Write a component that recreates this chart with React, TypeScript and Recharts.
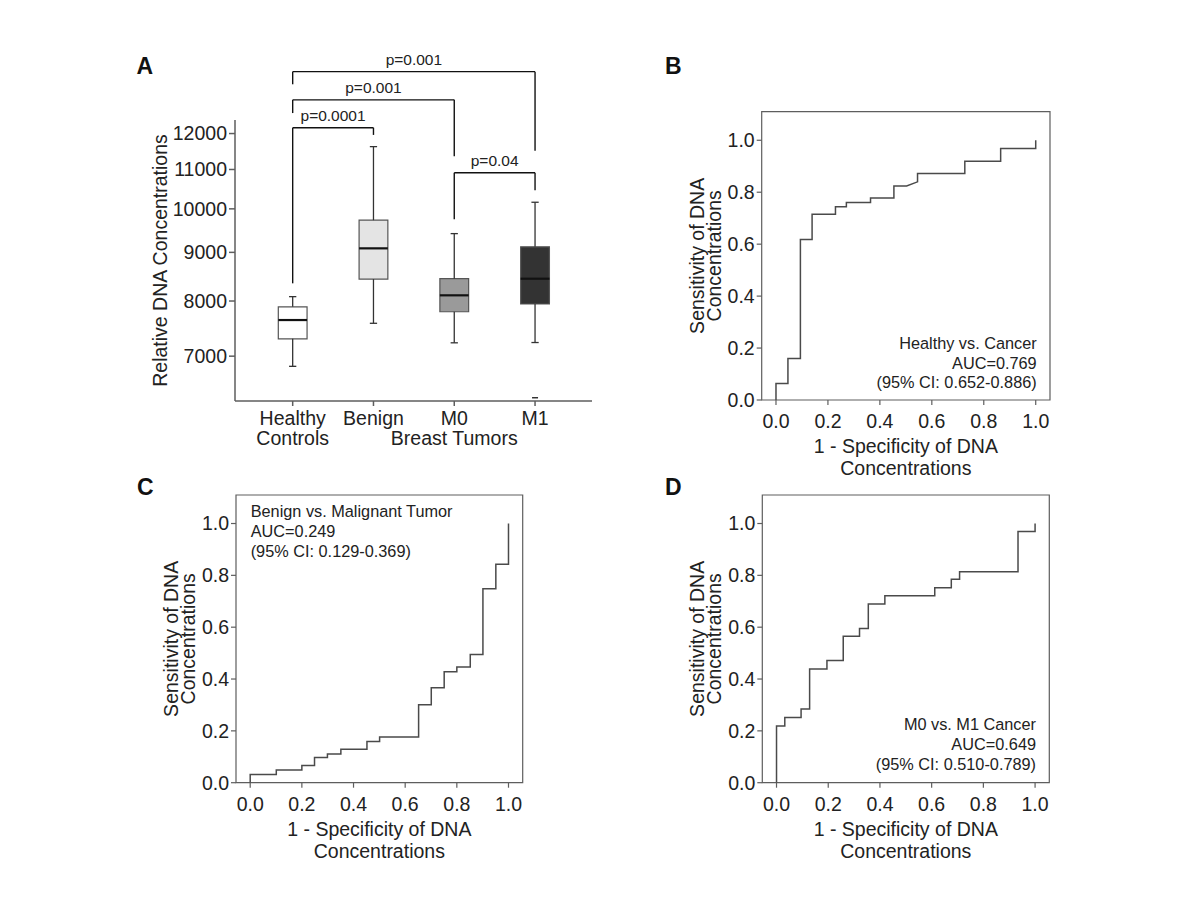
import React from "react";
import {
  ComposedChart, LineChart, Line, Scatter, XAxis, YAxis,
  ReferenceArea, ReferenceLine,
} from "recharts";

const FONT = '"Liberation Sans", Arial, Helvetica, sans-serif';
const INK = "#222222";
const AXIS_GRAY = "#5e5e5e";
const CURVE_GRAY = "#4a4a4a";
const TICK_FONT = 19.5;
const NOTE_FONT = 16.3;

// ---------------------------------------------------------------------------
// Panel A – box plot data
// ---------------------------------------------------------------------------
const groupIds = [1, 2, 3, 4];
const groupLabels = [["Healthy", "Controls"], ["Benign"], ["M0"], ["M1"]];
const tumorGroupIds = [2, 3, 4];
const tumorLabel = "Breast Tumors";
const whiskerLow = [6830, 7580, 7230, 7235];
const quartile1 = [7300, 8436, 7795, 7942];
const medians = [7640, 9088, 8111, 8444];
const quartile3 = [7889, 9730, 8444, 9122];
const whiskerHigh = [8085, 11626, 9418, 10161];
const outlierGroup = [4];
const outlierValue = [6330];
const concentrationTicks = [7000, 8000, 9000, 10000, 11000, 12000];

// significance brackets (group ids, label, bracket level + leg ends in DNA units)
const bracketFrom = [1, 1, 1, 3];
const bracketTo = [4, 3, 2, 4];
const bracketP = ["p=0.001", "p=0.001", "p=0.0001", "p=0.04"];
const bracketLevel = [13940, 13020, 12170, 10915];
const bracketFromEnd = [13520, 12610, 8350, 9750];
const bracketToEnd = [11510, 11360, 11960, 10460];

const boxFills = ["#ffffff", "#e4e4e4", "#9a9a9a", "#333333"];
const BOX_HALF = 0.178;
const CAP_HALF = 0.045;

// ---------------------------------------------------------------------------
// ROC curves (corner points of the step curves)
// ---------------------------------------------------------------------------
const rocTicks = [0, 0.2, 0.4, 0.6, 0.8, 1.0];

const healthyFpr = [0, 0, 0.046, 0.046, 0.094, 0.094, 0.139, 0.139, 0.229, 0.229, 0.271, 0.271,
  0.364, 0.364, 0.454, 0.454, 0.503, 0.545, 0.545, 0.727, 0.727, 0.865, 0.865, 1, 1];
const healthyTpr = [0, 0.064, 0.064, 0.160, 0.160, 0.618, 0.618, 0.715, 0.715, 0.744, 0.744, 0.760,
  0.760, 0.778, 0.778, 0.824, 0.824, 0.840, 0.872, 0.872, 0.919, 0.919, 0.968, 0.968, 1];

const benignFpr = [0, 0, 0.101, 0.101, 0.2, 0.2, 0.249, 0.249, 0.299, 0.299, 0.351, 0.351, 0.452,
  0.452, 0.501, 0.501, 0.652, 0.652, 0.701, 0.701, 0.751, 0.751, 0.8, 0.8, 0.852, 0.852, 0.901,
  0.901, 0.951, 0.951, 1, 1];
const benignTpr = [0, 0.032, 0.032, 0.049, 0.049, 0.066, 0.066, 0.097, 0.097, 0.111, 0.111, 0.129,
  0.129, 0.159, 0.159, 0.176, 0.176, 0.301, 0.301, 0.366, 0.366, 0.428, 0.428, 0.446, 0.446,
  0.495, 0.495, 0.748, 0.748, 0.843, 0.843, 1];

const metFpr = [0, 0, 0.032, 0.032, 0.095, 0.095, 0.128, 0.128, 0.195, 0.195, 0.258, 0.258, 0.321,
  0.321, 0.355, 0.355, 0.419, 0.419, 0.612, 0.612, 0.676, 0.676, 0.708, 0.708, 0.934, 0.934, 1, 1];
const metTpr = [0, 0.219, 0.219, 0.252, 0.252, 0.284, 0.284, 0.439, 0.439, 0.471, 0.471, 0.565,
  0.565, 0.595, 0.595, 0.689, 0.689, 0.721, 0.721, 0.752, 0.752, 0.785, 0.785, 0.814, 0.814,
  0.969, 0.969, 1];

const ROC_X: [number, number] = [-0.055, 1.055];
const ROC_Y: [number, number] = [0, 1.11];

// ---------------------------------------------------------------------------
// Shared label helpers (multi-line titles are one <text> with tspans)
// ---------------------------------------------------------------------------
function VerticalTitle({ viewBox, lines, dists }: any) {
  if (!viewBox) return null;
  const plotLeft = viewBox.x + viewBox.width;
  const cy = viewBox.y + viewBox.height / 2;
  return (
    <text
      transform={`translate(${plotLeft},${cy}) rotate(-90)`}
      textAnchor="middle"
      dominantBaseline="central"
      fontSize={TICK_FONT}
      fontFamily={FONT}
      fill={INK}
    >
      {lines.map((t: string, k: number) => (
        <tspan key={k} x={0} y={-dists[k]}>{t}</tspan>
      ))}
    </text>
  );
}

function BottomTitle({ viewBox, lines, baselines }: any) {
  if (!viewBox) return null;
  const cx = viewBox.x + viewBox.width / 2;
  return (
    <text textAnchor="middle" fontSize={TICK_FONT} fontFamily={FONT} fill={INK}>
      {lines.map((t: string, k: number) => (
        <tspan key={k} x={cx} y={viewBox.y + baselines[k]}>{t}</tspan>
      ))}
    </text>
  );
}

function GroupTick({ x, y, payload }: any) {
  const i = groupIds.indexOf(payload.value);
  const lines = groupLabels[i] ?? [];
  const mid = tumorGroupIds[Math.floor(tumorGroupIds.length / 2)];
  return (
    <g>
      <text textAnchor="middle" fontSize={TICK_FONT} fontFamily={FONT} fill={INK}>
        {lines.map((t, k) => (
          <tspan key={k} x={x} y={y + 17.3 + k * 20}>{t}</tspan>
        ))}
      </text>
      {payload.value === mid && (
        <text x={x} y={y + 37.3} textAnchor="middle"
          fontSize={TICK_FONT} fontFamily={FONT} fill={INK}>
          {tumorLabel}
        </text>
      )}
    </g>
  );
}

// ---------------------------------------------------------------------------
// Panel A
// ---------------------------------------------------------------------------
function BoxPlotPanel() {
  const outlierData = outlierGroup.map((g, i) => ({ group: g, value: outlierValue[i] }));
  const tickStyle = { fontSize: TICK_FONT, fill: INK, fontFamily: FONT };

  return (
    <div style={{ position: "absolute", left: 130, top: 40 }}>
      <ComposedChart
        width={480}
        height={420}
        data={outlierData}
        margin={{ top: 80, right: 18, bottom: 19, left: 45 }}
      >
        <XAxis
          type="number"
          dataKey="group"
          domain={[0.286, 4.705]}
          allowDataOverflow
          ticks={groupIds}
          interval={0}
          height={40}
          tickSize={5}
          tickMargin={2}
          axisLine={{ stroke: AXIS_GRAY, strokeWidth: 1.5 }}
          tickLine={{ stroke: AXIS_GRAY, strokeWidth: 1.5 }}
          tick={GroupTick}
        />
        <YAxis
          type="number"
          dataKey="value"
          scale="log"
          domain={[6280, 12400]}
          allowDataOverflow
          ticks={concentrationTicks}
          interval={0}
          width={60}
          tickSize={6}
          tickMargin={2}
          axisLine={{ stroke: AXIS_GRAY, strokeWidth: 1.5 }}
          tickLine={{ stroke: AXIS_GRAY, strokeWidth: 1.5 }}
          tick={tickStyle}
          label={(p: any) => (
            <VerticalTitle {...p} lines={["Relative DNA Concentrations"]} dists={[75]} />
          )}
        />

        {/* whiskers + caps */}
        {groupIds.map((g, i) => (
          <React.Fragment key={`w${g}`}>
            <ReferenceLine segment={[{ x: g, y: quartile3[i] }, { x: g, y: whiskerHigh[i] }]}
              stroke="#333" strokeWidth={1.3} />
            <ReferenceLine segment={[{ x: g, y: whiskerLow[i] }, { x: g, y: quartile1[i] }]}
              stroke="#333" strokeWidth={1.3} />
            <ReferenceLine segment={[{ x: g - CAP_HALF, y: whiskerHigh[i] }, { x: g + CAP_HALF, y: whiskerHigh[i] }]}
              stroke="#333" strokeWidth={1.3} />
            <ReferenceLine segment={[{ x: g - CAP_HALF, y: whiskerLow[i] }, { x: g + CAP_HALF, y: whiskerLow[i] }]}
              stroke="#333" strokeWidth={1.3} />
          </React.Fragment>
        ))}

        {/* boxes */}
        {groupIds.map((g, i) => (
          <ReferenceArea
            key={`b${g}`}
            x1={g - BOX_HALF}
            x2={g + BOX_HALF}
            y1={quartile1[i]}
            y2={quartile3[i]}
            fill={boxFills[i]}
            fillOpacity={1}
            stroke="#555"
            strokeWidth={1.2}
          />
        ))}

        {/* medians */}
        {groupIds.map((g, i) => (
          <ReferenceLine key={`m${g}`}
            segment={[{ x: g - BOX_HALF, y: medians[i] }, { x: g + BOX_HALF, y: medians[i] }]}
            stroke="#111" strokeWidth={2.2} />
        ))}

        {/* significance brackets */}
        {bracketP.map((p, i) => (
          <React.Fragment key={`s${i}`}>
            <ReferenceLine
              ifOverflow="visible"
              segment={[{ x: bracketFrom[i], y: bracketLevel[i] }, { x: bracketTo[i], y: bracketLevel[i] }]}
              stroke="#111"
              strokeWidth={1.4}
              label={{ value: p, position: "top", offset: 7, fill: INK, fontSize: 15.5, fontFamily: FONT }}
            />
            <ReferenceLine
              ifOverflow="visible"
              segment={[{ x: bracketFrom[i], y: bracketLevel[i] }, { x: bracketFrom[i], y: bracketFromEnd[i] }]}
              stroke="#111"
              strokeWidth={1.4}
            />
            <ReferenceLine
              ifOverflow="visible"
              segment={[{ x: bracketTo[i], y: bracketLevel[i] }, { x: bracketTo[i], y: bracketToEnd[i] }]}
              stroke="#111"
              strokeWidth={1.4}
            />
          </React.Fragment>
        ))}

        {/* outliers */}
        <Scatter
          dataKey="value"
          isAnimationActive={false}
          shape={(s: any) => (
            <line x1={s.cx - 3} x2={s.cx + 3} y1={s.cy} y2={s.cy} stroke="#333" strokeWidth={1.5} />
          )}
        />
      </ComposedChart>
    </div>
  );
}

// ---------------------------------------------------------------------------
// ROC panels
// ---------------------------------------------------------------------------
function RocNote({ viewBox, note }: any) {
  if (!viewBox) return null;
  const x = note.align === "end"
    ? viewBox.x + viewBox.width - note.inset
    : viewBox.x + note.inset;
  const base = note.fromTop ? viewBox.y : viewBox.y + viewBox.height;
  return (
    <g>
      {note.lines.map((t: string, k: number) => (
        <text key={k} x={x} y={base + note.baselines[k]} textAnchor={note.align}
          fontSize={NOTE_FONT} fontFamily={FONT} fill={INK}>
          {t}
        </text>
      ))}
    </g>
  );
}

function RocPanel({ box, margin, fpr, tpr, note }: any) {
  const data = fpr.map((x: number, i: number) => ({ fpr: x, tpr: tpr[i] }));
  const tickStyle = { fontSize: TICK_FONT, fill: INK, fontFamily: FONT };
  return (
    <div style={{ position: "absolute", left: box.left, top: box.top }}>
      <LineChart width={box.width} height={box.height} data={data} margin={margin}>
        <XAxis
          type="number"
          dataKey="fpr"
          domain={ROC_X}
          allowDataOverflow
          ticks={rocTicks}
          interval={0}
          tickFormatter={(v: number) => v.toFixed(1)}
          height={30}
          tickSize={5}
          tickMargin={9}
          axisLine={false}
          tickLine={{ stroke: AXIS_GRAY, strokeWidth: 1.2 }}
          tick={tickStyle}
          label={(p: any) => (
            <BottomTitle {...p} lines={["1 - Specificity of DNA", "Concentrations"]} baselines={[53, 75]} />
          )}
        />
        <YAxis
          type="number"
          domain={ROC_Y}
          allowDataOverflow
          ticks={rocTicks}
          interval={0}
          tickFormatter={(v: number) => v.toFixed(1)}
          width={50}
          tickSize={5}
          tickMargin={2}
          axisLine={false}
          tickLine={{ stroke: AXIS_GRAY, strokeWidth: 1.2 }}
          tick={tickStyle}
          label={(p: any) => (
            <VerticalTitle {...p} lines={["Sensitivity of DNA", "Concentrations"]} dists={[65, 48]} />
          )}
        />
        <ReferenceArea
          x1={ROC_X[0]}
          x2={ROC_X[1]}
          y1={ROC_Y[0]}
          y2={ROC_Y[1]}
          fill="none"
          stroke={AXIS_GRAY}
          strokeWidth={1.2}
          label={(p: any) => <RocNote {...p} note={note} />}
        />
        <Line
          type="linear"
          dataKey="tpr"
          stroke={CURVE_GRAY}
          strokeWidth={1.5}
          dot={false}
          activeDot={false}
          isAnimationActive={false}
        />
      </LineChart>
    </div>
  );
}

const panelLetters = [
  { t: "A", x: 136.5, y: 73.5 },
  { t: "B", x: 665, y: 74 },
  { t: "C", x: 137, y: 495 },
  { t: "D", x: 665, y: 495 },
];

export default function App() {
  return (
    <div style={{ position: "absolute", left: 0, top: 0, width: 1200, height: 900, background: "#fff", fontFamily: FONT }}>
      <svg width={1200} height={900} style={{ position: "absolute", left: 0, top: 0 }}>
        {panelLetters.map((l) => (
          <text key={l.t} x={l.x} y={l.y} fontSize={23} fontWeight="bold" fontFamily={FONT} fill="#111">
            {l.t}
          </text>
        ))}
      </svg>

      <BoxPlotPanel />

      <RocPanel
        box={{ left: 670, top: 100, width: 400, height: 380 }}
        margin={{ top: 11.7, right: 20, bottom: 50, left: 41.7 }}
        fpr={healthyFpr}
        tpr={healthyTpr}
        note={{
          lines: ["Healthy vs. Cancer", "AUC=0.769", "(95% CI: 0.652-0.886)"],
          align: "end", inset: 13.3, fromTop: false, baselines: [-50.7, -30.7, -11.7],
        }}
      />

      <RocPanel
        box={{ left: 130, top: 480, width: 410, height: 390 }}
        margin={{ top: 15, right: 17.3, bottom: 57.3, left: 56 }}
        fpr={benignFpr}
        tpr={benignTpr}
        note={{
          lines: ["Benign vs. Malignant Tumor", "AUC=0.249", "(95% CI: 0.129-0.369)"],
          align: "start", inset: 14.7, fromTop: true, baselines: [22.3, 41.7, 61.7],
        }}
      />

      <RocPanel
        box={{ left: 670, top: 480, width: 400, height: 390 }}
        margin={{ top: 15, right: 20.7, bottom: 57.3, left: 42.3 }}
        fpr={metFpr}
        tpr={metTpr}
        note={{
          lines: ["M0 vs. M1 Cancer", "AUC=0.649", "(95% CI: 0.510-0.789)"],
          align: "end", inset: 13.3, fromTop: false, baselines: [-52.7, -32.7, -12.7],
        }}
      />
    </div>
  );
}
